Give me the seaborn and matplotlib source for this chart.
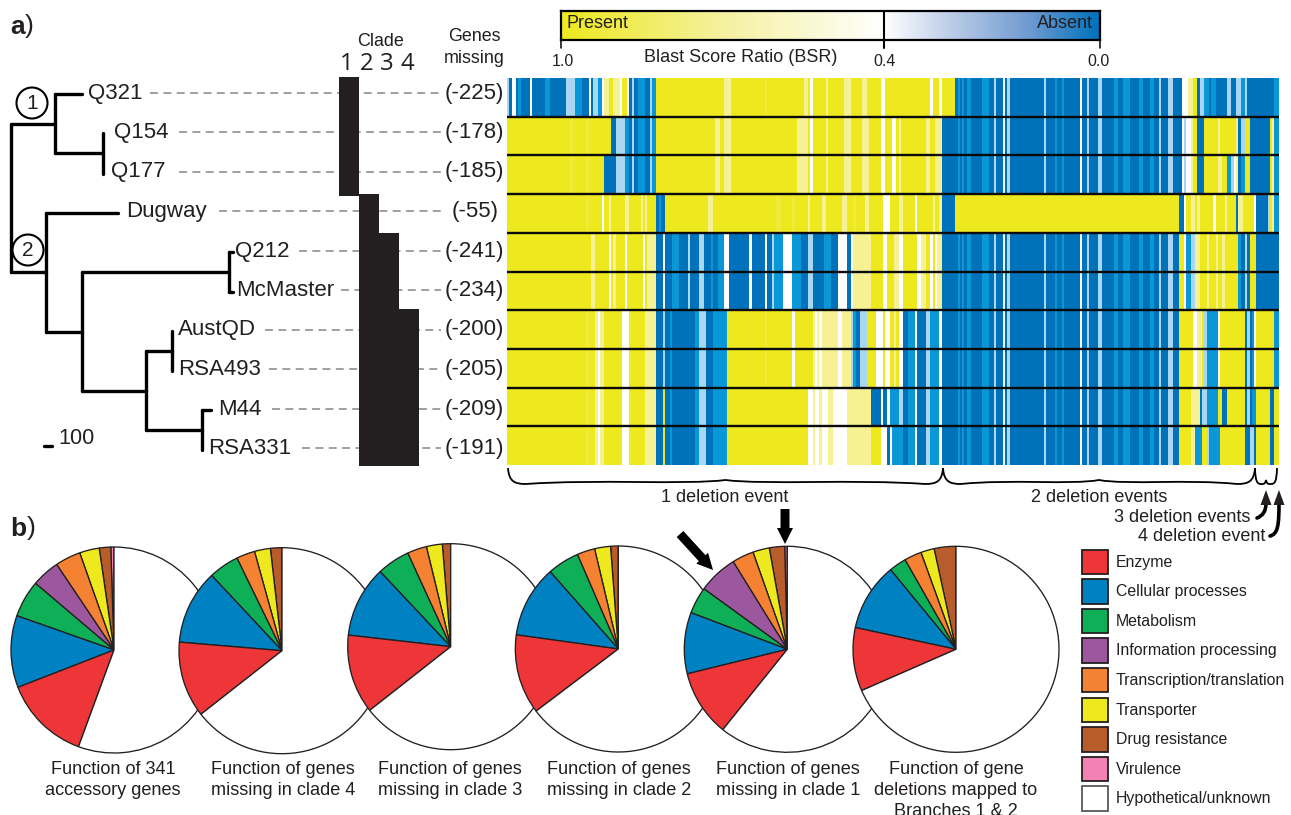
import numpy as np
import pandas as pd
import matplotlib
matplotlib.use("Agg")
import matplotlib.pyplot as plt
from matplotlib.colors import LinearSegmentedColormap
from matplotlib.patches import Rectangle, Circle, PathPatch, Polygon
from matplotlib.path import Path
import seaborn as sns

# ---------- DATA ----------
strains = ["Q321", "Q154", "Q177", "Dugway", "Q212", "McMaster", "AustQD", "RSA493", "M44", "RSA331"]
genes_missing = ["(-225)", "(-178)", "(-185)", "(-55)", "(-241)", "(-234)", "(-200)", "(-205)", "(-209)", "(-191)"]

# BSR levels used in the run-length rows below
bsr_levels = {"Y": 1.0, "y": 0.93, "P": 0.68, "W": 0.42, "L": 0.25, "M": 0.10, "B": 0.0}

core = ("B1 M1 B1 M1 B1 M2 B5 M3 B2 L1 B3 W1 B1 L1 B15 L1 B4 M1 B2 M1 B7 W1 B2 L1 B4 L2 B5 M2 B2 M3 "
        "B4 M2 B3 M2 B2 L1 B3 L2 B3")
common = "B2 M3 W1 B4 L2 M4 W1 B6"
head_c4 = "Y35 y1 Y3 P1 W1 P2 Y8 W3 Y7 P5"
blue_c4 = "L1 B2 M1 B10 M2 L3 B3 M6"
mid_c3 = ("B3 W1 B3 M3 B4 L1 B4 L2 B3 M1 B2 M3 W2 B9 W1 B6 W1 B2 L1 M4 W4 M4 B3 L2 B5 M3 B3 W4 B2 W1 P2 P6 Y5 W2 "
          "Y3 P2 W2 Y6 W2 P2 Y2 W1 Y1 W1 P2 B6")
mid_q154 = ("B1 L1 B2 M3 B2 L1 M2 Y26 P2 Y2 P3 Y29 P3 P2 Y1 W1 Y6 P1 Y7 P3 Y5 P3 Y5 W2 Y3 W2 Y1 P1 Y11 P2 Y2 P3 B6")

row_q321 = ("L1 B1 W2 B1 M1 B4 W1 B6 M2 B7 L4 M3 B3 W1 B1 L2 M2 W1 P2 Y2 P3 W1 Y2 W1 B1 L1 B2 M3 B2 L1 M2 "
            "Y30 P3 Y15 y1 Y16 P2 Y1 W1 Y6 P1 Y7 P3 Y5 P2 Y6 W2 Y20 W1 Y3 W1 Y6 " + core +
            " B1 W3 P2 Y2 B1 L2 M2 B1 M2 B5 L2 B2 L2 M2 L1 B12 M2")
row_q154 = ("Y28 y1 Y6 y1 Y10 B2 L4 M2 " + mid_q154 + " " + core +
            " B1 W1 L1 W2 P1 Y2 B3 Y6 P1 Y7 P1 B1 L2 Y2 B9 Y1 P1 M2")
row_q177 = ("Y28 y1 Y6 y1 Y7 B5 L4 M2 " + mid_q154 + " " + core +
            " B1 W1 L1 W2 P1 Y2 B3 Y6 P2 Y2 M2 L1 W1 P1 B1 M2 Y2 B9 Y1 P1 M2")
row_dugway = ("Y35 y1 Y6 W1 Y2 P1 Y6 P2 Y5 P1 Y1 P1 Y4 B1 M1 B2 Y19 P2 Y28 y2 Y5 y1 Y6 P1 Y5 P2 Y7 P2 Y3 y1 Y4 "
              "P2 Y6 W3 Y4 P2 Y5 W1 Y7 P1 Y2 P1 B6 Y99 B2 W1 Y2 P2 Y1 P1 Y6 W1 Y4 P1 Y4 B1 P2 Y5 W1 B5 L1 Y1 P1 M2")
row_q212 = ("Y37 P2 Y6 W1 Y1 P1 Y4 W1 Y7 W1 Y1 P4 " + mid_c3 + " " + core +
            " Y2 W1 M2 L2 P1 P1 Y3 P1 Y3 P1 Y2 P1 Y6 M1 B2 L1 B1 Y3 B10")
row_mcmaster = row_q212
row_austqd = (head_c4 + " B3 " + blue_c4 + " Y17 y1 Y11 W1 Y8 P1 W1 P1 W1 P3 P4 W2 P4 L1 M1 B2 L3 Y4 W3 Y1 W2 Y2 P1 Y1 W2 "
              + common + " " + core + " Y6 W2 P2 Y1 L1 M2 M3 W1 Y11 B1 L1 B1 M1 W1 Y8 M2")
row_rsa493 = row_austqd
row_m44 = (head_c4 + " B3 Y1 B2 M1 B10 M2 L3 B3 M6 Y36 W2 P1 W2 P1 W3 P2 W6 P11 B4 W1 B2 W1 M4 L2 " + common + " " + core +
           " Y5 P4 B1 L2 M5 Y2 B2 Y8 B1 L1 B1 M2 Y6 B2 Y2")
row_rsa331 = (head_c4 + " B3 Y1 B2 M1 B10 M2 L3 B3 M6 Y36 W2 P1 W2 P1 W3 P2 W6 P11 Y4 W3 B1 W1 M5 " + common + " " + core +
              " Y5 P2 M3 Y2 L1 M5 Y11 B2 L2 B1 Y6 B2 Y2")
bsr_rows = [row_q321, row_q154, row_q177, row_dugway, row_q212, row_mcmaster, row_austqd, row_rsa493, row_m44, row_rsa331]

categories = ["Virulence", "Drug resistance", "Transporter", "Transcription/translation", "Information processing",
              "Metabolism", "Cellular processes", "Enzyme", "Hypothetical/unknown"]
cat_colors = ["#F282B4", "#B85C2B", "#EEE91F", "#F58233", "#9C579F", "#0FAF57", "#0081C2", "#EE3537", "#FFFFFF"]
pie_accessory = [0.5, 1.8, 3.1, 4.0, 4.4, 5.8, 11.3, 13.5, 55.6]
pie_clade4 = [0, 1.8, 2.5, 2.9, 0, 4.75, 11.7, 11.9, 64.35]
pie_clade3 = [0, 1.3, 2.5, 3.05, 0, 5.15, 11.2, 12.4, 64.4]
pie_clade2 = [0, 1.2, 2.5, 2.8, 0, 5.0, 11.3, 12.5, 64.7]
pie_clade1 = [0.4, 2.4, 2.6, 3.4, 6.2, 4.2, 9.6, 10.4, 60.7]
pie_branches = [0, 3.4, 2.1, 2.7, 0, 2.7, 10.6, 9.9, 68.1]
pie_captions = ["Function of 341\naccessory genes", "Function of genes\nmissing in clade 4",
                "Function of genes\nmissing in clade 3", "Function of genes\nmissing in clade 2",
                "Function of genes\nmissing in clade 1", "Function of gene\ndeletions mapped to\nBranches 1 & 2"]
legend_order = ["Enzyme", "Cellular processes", "Metabolism", "Information processing", "Transcription/translation",
                "Transporter", "Drug resistance", "Virulence", "Hypothetical/unknown"]

# ---------- SETUP ----------
sns.set_theme(style="white")
plt.rcParams["font.family"] = ["Liberation Sans", "DejaVu Sans"]
W, H = 1291, 815
INK = "#231F20"
fig = plt.figure(figsize=(W / 100, H / 100), dpi=100, facecolor="white")


def px_axes(x0, y0, x1, y1, **kw):
    return fig.add_axes([x0 / W, 1 - y1 / H, (x1 - x0) / W, (y1 - y0) / H], **kw)


def expand(row):
    vals = []
    for tok in row.split():
        vals += [bsr_levels[tok[0]]] * int(tok[1:])
    return vals


# ---------- HEATMAP ----------
heat_cmap = LinearSegmentedColormap.from_list("bsr", [
    (0.0, "#0072BC"), (0.10, "#0A98D8"), (0.25, "#A9D7F1"), (0.42, "#FFFFFF"),
    (0.68, "#F6F294"), (1.0, "#EEE91F")])
matrix = pd.DataFrame([expand(r) for r in bsr_rows], index=strains)
ax_h = px_axes(507, 78, 1279, 465)
sns.heatmap(matrix, ax=ax_h, cmap=heat_cmap, vmin=0, vmax=1, cbar=False, xticklabels=False, yticklabels=False)
ax_h.set_xlabel("")
ax_h.set_ylabel("")
ax_h.hlines(range(1, len(strains)), 0, matrix.shape[1], colors="#0A0A0A", lw=1.7)

# ---------- OVERLAY ----------
ov = fig.add_axes([0, 0, 1, 1], zorder=100)
ov.set_xlim(0, W)
ov.set_ylim(H, 0)
ov.axis("off")
ov.patch.set_alpha(0)


def T(x, y, s, ha="left", size=13, **kw):
    kw.setdefault("color", INK)
    return ov.text(x, y + 1.5, s, ha=ha, va="center", fontsize=size, **kw)


# colour bar key
ax_c = px_axes(561, 11, 1100, 40)
bar_cmap = LinearSegmentedColormap.from_list("key", [
    (0.0, "#0072BC"), (0.13, "#6F9BD1"), (0.27, "#B9CBE6"), (0.40, "#FFFFFF"),
    (0.70, "#F5F1A0"), (1.0, "#EEE91F")])
ax_c.imshow(np.linspace(1, 0, 400)[None, :], cmap=bar_cmap, vmin=0, vmax=1, aspect="auto", extent=[1, 0, 0, 1])
ax_c.set_xticks([])
ax_c.set_yticks([])
for s in ax_c.spines.values():
    s.set_color("black")
    s.set_linewidth(1.6)
    s.set_visible(True)
ov.plot([884, 884], [11, 48], color="black", lw=1.5)
ov.plot([561, 561], [40, 48], color="black", lw=1.1)
ov.plot([1100, 1100], [40, 48], color="black", lw=1.1)
for x, t in [(563, "1.0"), (885, "0.4"), (1099, "0.0")]:
    T(x, 60, t, ha="center", size=11.5)
T(741, 56.5, "Blast Score Ratio (BSR)", ha="center")
T(567, 22.5, "Present")
T(1093, 21.5, "Absent", ha="right")

# tree
tree_segments = [
    ((11, 124), (11, 272)), ((11, 124), (55, 124)), ((55, 94), (55, 153)), ((55, 94), (82, 94)),
    ((55, 153), (103, 153)), ((103, 133), (103, 174)),
    ((11, 272), (46, 272)), ((46, 213), (46, 332)), ((46, 213), (118, 213)), ((46, 332), (82, 332)),
    ((82, 272), (82, 391)), ((82, 272), (229, 272)), ((229, 252), (229, 292)), ((229, 252), (233, 252)),
    ((229, 292), (233, 292)), ((82, 391), (146, 391)), ((146, 351), (146, 430)), ((146, 351), (172, 351)),
    ((172, 331), (172, 371)), ((146, 430), (202, 430)), ((202, 410), (202, 450)), ((202, 410), (211, 410)),
    ((44, 446), (52, 446)),
]
for (xa, ya), (xb, yb) in tree_segments:
    ov.plot([xa, xb], [ya, yb], color="black", lw=2.4, solid_capstyle="round", zorder=3)
for cx, cy, label in [(32, 103, "1"), (28, 250, "2")]:
    ov.add_patch(Circle((cx, cy), 15.5, fc="white", ec="black", lw=1.5, zorder=4))
    T(cx, cy - 1, label, ha="center", size=15, zorder=5)

# strain labels + dashed leaders
label_x = [88, 114, 111, 126, 235, 236, 178, 178, 218, 208]
dash_x = [150, 179, 179, 219, 299, 341, 265, 269, 272, 302]
row_y = [93, 132, 171.5, 211, 250.5, 290, 329.5, 369, 409, 448]
count_x = [445, 445, 445, 452, 445, 445, 445, 445, 445, 445]
for name, gm, lx, dx, y, cxx in zip(strains, genes_missing, label_x, dash_x, row_y, count_x):
    T(lx, y - 1, name, size=16)
    T(cxx, y - 1, gm, size=16)
    ov.plot([dx, 441], [y, y], color="#999999", lw=1.3, ls=(0, (4.4, 3.0)), zorder=1)
T(58, 437, "100", size=15.7)

# clade staircase
clade_top = [77, 194, 232.5, 308.7]
clade_bot = [195.5, 465.5, 465.5, 465.5]
clade_left = [338.5, 358.5, 379, 399]
clade_right = [359, 379, 399, 418.5]
for l, r, t, b in zip(clade_left, clade_right, clade_top, clade_bot):
    ov.add_patch(Rectangle((l, t), r - l, b - t, fc=INK, ec="none", zorder=2))
T(380, 40, "Clade", ha="center", size=12.9)
for x, t in [(347, "1"), (367, "2"), (387, "3"), (407, "4")]:
    T(x, 63, t, ha="center", size=17.3, family="Open Sans")
T(474, 35, "Genes", ha="center", size=12.9)
T(474, 57, "missing", ha="center", size=12.9)

# panel letters
T(10, 25, "a", size=19, fontweight="bold")
T(25, 25, ")", size=19)
T(10, 527, "b", size=19, fontweight="bold")
T(27, 527, ")", size=19)


# braces
def brace(x0, x1, ytop=468, ybot=484, ycusp=480, s=18, wave=5):
    xm = (x0 + x1) / 2
    hl = xm - x0 - s
    v = [(x0, ytop), (x0 + s * 0.05, ybot - 2), (x0 + s * 0.4, ybot), (x0 + s, ybot),
         (x0 + s + hl * 0.35, ybot - wave), (xm - hl * 0.2, ybot + 1), (xm, ycusp),
         (xm + hl * 0.2, ybot + 1), (x1 - s - hl * 0.35, ybot - wave), (x1 - s, ybot),
         (x1 - s * 0.4, ybot), (x1 - s * 0.05, ybot - 2), (x1, ytop)]
    c = [Path.MOVETO] + [Path.CURVE4] * 12
    ov.add_patch(PathPatch(Path(v, c), fc="none", ec="black", lw=1.3))


brace(508, 943)
brace(943, 1255)
brace(1255, 1277, s=6, wave=0, ycusp=480)
T(725, 496, "1 deletion event", ha="center")
T(1099, 496, "2 deletion events", ha="center")
T(1250, 516, "3 deletion events", ha="right")
T(1265, 535, "4 deletion event", ha="right")

# curved arrows
for v in [[(1257, 518), (1262, 516), (1266, 512), (1266, 503)],
          [(1270, 536), (1278, 534), (1279, 525), (1279, 503)]]:
    ov.add_patch(PathPatch(Path(v, [Path.MOVETO] + [Path.CURVE4] * 3), fc="none", ec="black", lw=2.6,
                           capstyle="round"))
for tipx in [1266, 1279]:
    ov.add_patch(Polygon([(tipx, 490), (tipx - 5.5, 505), (tipx + 5.5, 505)], fc=INK, ec="none"))


# block arrows
def block_arrow(tail, tip, hw=8, hl=16, tw=4.5):
    t = np.array(tail, float)
    p = np.array(tip, float)
    d = (p - t) / np.linalg.norm(p - t)
    n = np.array([-d[1], d[0]])
    b = p - d * hl
    pts = [t + n * tw, b + n * tw, b + n * hw, p, b - n * hw, b - n * tw, t - n * tw]
    ov.add_patch(Polygon(pts, fc="black", ec="none"))


block_arrow((680, 534), (713, 570))
block_arrow((785, 509), (785, 544))

# pies (later pies lie over earlier ones)
pie_values = [pie_accessory, pie_clade4, pie_clade3, pie_clade2, pie_clade1, pie_branches]
pie_cx = [114, 282, 450.7, 618.3, 787.3, 956]
pie_cy = [650, 650.7, 646.7, 649, 649.3, 649.3]
pie_r = 103
cap_cx = [113, 283, 450, 619, 788, 956]
for i, (vals, cx, cy, capt, ccx) in enumerate(zip(pie_values, pie_cx, pie_cy, pie_captions, cap_cx)):
    axp = px_axes(cx - pie_r, cy - pie_r, cx + pie_r, cy + pie_r, zorder=10 + i)
    kept = [(v, c) for v, c in zip(vals, cat_colors) if v > 0]
    wedges, _ = axp.pie([k[0] for k in kept], colors=[k[1] for k in kept], startangle=90, counterclock=True,
                        wedgeprops=dict(edgecolor=INK, linewidth=0.95))
    for w in wedges:
        w.set_clip_on(False)
    axp.set_xlim(-1, 1)
    axp.set_ylim(-1, 1)
    axp.patch.set_alpha(0)
    axp.axis("off")
    for j, line in enumerate(capt.split("\n")):
        T(ccx, 767.5 + 21.5 * j, line, ha="center", size=13.05)

# legend
color_of = dict(zip(categories, cat_colors))
for i, name in enumerate(legend_order):
    y = 549.5 + 29.6 * i
    ec = "#58595B" if name == "Hypothetical/unknown" else INK
    ov.add_patch(Rectangle((1082, y), 26, 24.5, fc=color_of[name], ec=ec, lw=1.3))
    T(1116, y + 11, name, size=11.4)

fig.savefig("out.png", dpi=100, facecolor="white")
